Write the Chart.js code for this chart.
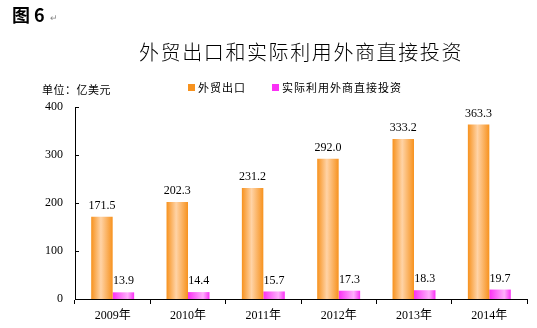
<!DOCTYPE html>
<html>
<head>
<meta charset="utf-8">
<script src="https://cdn.jsdelivr.net/npm/chart.js@4"></script>
<style>
  html, body { margin: 0; padding: 0; background: #fff; }
  #wrap { width: 537px; height: 328px; position: relative; }
</style>
</head>
<body>
<div id="wrap"><canvas id="myChart" width="537" height="328"></canvas></div>
<script>
const years = ["2009年", "2010年", "2011年", "2012年", "2013年", "2014年"];
const exportValues = [171.5, 202.3, 231.2, 292.0, 333.2, 363.3];
const fdiValues = [13.9, 14.4, 15.7, 17.3, 18.3, 19.7];
const seriesNames = ["外贸出口", "实际利用外商直接投资"];
const yTicks = [0, 100, 200, 300, 400];

const serif = '"Liberation Serif", "Noto Sans CJK SC", serif';
const cjk = '"Noto Sans CJK SC", sans-serif';
const catPct = 0.57;

// orange / pink bar gradients (edge, middle, where the middle sits)
const barColors = [
  ["#F7921E", "#FFD3A6", 0.45],
  ["#FA30F5", "#FFB0FB", 0.7],
];

// horizontal gradient across one bar, worked out from the x scale
function barFill(c) {
  const col = barColors[c.datasetIndex];
  const x = c.chart.scales.x;
  if (!x || !c.chart.chartArea) return col[0];
  const center = x.getPixelForValue(c.dataIndex);
  const w = (x.width / years.length) * catPct / 2;
  const x0 = c.datasetIndex === 0 ? center - w : center;
  const g = c.chart.ctx.createLinearGradient(x0, 0, x0 + w, 0);
  g.addColorStop(0, col[0]);
  g.addColorStop(col[2], col[1]);
  g.addColorStop(1, col[0]);
  return g;
}

const extras = {
  id: "extras",
  afterDatasetsDraw(chart) {
    const ctx = chart.ctx;
    ctx.save();
    ctx.font = "12px " + serif;
    ctx.fillStyle = "#000";
    ctx.textAlign = "center";
    ctx.textBaseline = "bottom";
    chart.data.datasets.forEach((ds, i) => {
      chart.getDatasetMeta(i).data.forEach((bar, j) => {
        ctx.fillText(ds.data[j].toFixed(1), bar.x, bar.y - 5);
      });
    });
    // inward ticks on y axis
    const y = chart.scales.y;
    ctx.strokeStyle = "#000";
    ctx.lineWidth = 1;
    yTicks.forEach((t) => {
      const py = Math.round(y.getPixelForValue(t)) + 0.5;
      ctx.beginPath();
      ctx.moveTo(chart.chartArea.left, py);
      ctx.lineTo(chart.chartArea.left + 4, py);
      ctx.stroke();
    });
    ctx.restore();
  },
  afterDraw(chart) {
    const ctx = chart.ctx;
    ctx.save();
    ctx.fillStyle = "#000";
    ctx.textBaseline = "middle";
    // figure number
    ctx.font = "bold 18px " + cjk;
    ctx.textAlign = "left";
    ctx.fillText("图 6", 12, 15);
    ctx.font = "9px " + cjk;
    ctx.fillStyle = "#888";
    ctx.fillText("↵", 50, 18);
    // title
    ctx.fillStyle = "#000";
    ctx.font = "300 20px " + cjk;
    ctx.letterSpacing = "1.6px";
    ctx.textAlign = "center";
    ctx.fillText("外贸出口和实际利用外商直接投资", 301, 52);
    // unit
    ctx.letterSpacing = "0.5px";
    ctx.font = "11px " + cjk;
    ctx.textAlign = "left";
    ctx.fillText("单位：亿美元", 42, 90);
    // legend
    const legendX = [188, 272];
    seriesNames.forEach((name, i) => {
      ctx.fillStyle = barColors[i][0];
      ctx.fillRect(legendX[i], 84, 7, 7);
      ctx.fillStyle = "#000";
      ctx.letterSpacing = "1px";
      ctx.fillText(name, legendX[i] + 10, 88);
    });
    ctx.restore();
  },
};

new Chart(document.getElementById("myChart"), {
  type: "bar",
  data: {
    labels: years,
    datasets: [
      { label: seriesNames[0], data: exportValues, borderWidth: 0, backgroundColor: barFill },
      { label: seriesNames[1], data: fdiValues, borderWidth: 0, backgroundColor: barFill },
    ],
  },
  options: {
    responsive: false,
    animation: false,
    events: [],
    categoryPercentage: catPct,
    barPercentage: 1,
    layout: { padding: { left: 0, right: 10, top: 107, bottom: 0 } },
    plugins: {
      legend: { display: false },
      tooltip: { enabled: false },
    },
    scales: {
      x: {
        afterFit: (s) => { s.height = 29; },
        grid: {
          offset: true,
          drawOnChartArea: false,
          color: "#000",
          tickLength: 5,
        },
        border: { color: "#000", width: 1 },
        ticks: { color: "#000", font: { family: serif, size: 12 }, padding: 5 },
      },
      y: {
        min: 0,
        max: 400,
        afterFit: (s) => { s.width = 75; },
        afterBuildTicks: (s) => { s.ticks = yTicks.map((v) => ({ value: v })); },
        grid: { display: false, drawTicks: false },
        border: { color: "#000", width: 1 },
        ticks: { color: "#000", font: { family: serif, size: 12 }, padding: 12 },
      },
    },
  },
  plugins: [extras],
});
</script>
</body>
</html>
